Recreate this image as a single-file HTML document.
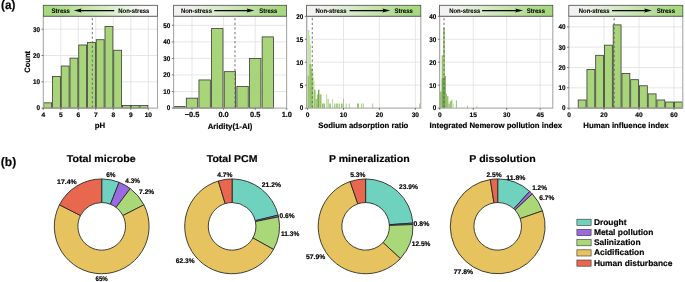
<!DOCTYPE html>
<html><head><meta charset="utf-8"><style>
html,body{margin:0;padding:0;background:#fff;width:685px;height:282px;overflow:hidden;}
svg{display:block;will-change:transform;}
text{font-family:"Liberation Sans",sans-serif;font-weight:bold;fill:#050505;text-rendering:geometricPrecision;stroke:#050505;stroke-width:0.18px;}
</style></head><body>
<svg width="685" height="282" viewBox="0 0 685 282" font-family="Liberation Sans, sans-serif" font-weight="bold"><defs><linearGradient id="hg1" x1="0" x2="1" y1="0" y2="0"><stop offset="0" stop-color="#A6D87F"/><stop offset="0.06" stop-color="#A6D87F"/><stop offset="0.9" stop-color="#fafafa"/><stop offset="1" stop-color="#fafafa"/></linearGradient><linearGradient id="hg2" x1="0" x2="1" y1="0" y2="0"><stop offset="0" stop-color="#f2f2f2"/><stop offset="0.12" stop-color="#f1f3ef"/><stop offset="0.94" stop-color="#A6D87F"/><stop offset="1" stop-color="#A6D87F"/></linearGradient><linearGradient id="hg3" x1="0" x2="1" y1="0" y2="0"><stop offset="0" stop-color="#f2f2f2"/><stop offset="0.12" stop-color="#f1f3ef"/><stop offset="0.94" stop-color="#A6D87F"/><stop offset="1" stop-color="#A6D87F"/></linearGradient><linearGradient id="hg4" x1="0" x2="1" y1="0" y2="0"><stop offset="0" stop-color="#f2f2f2"/><stop offset="0.12" stop-color="#f1f3ef"/><stop offset="0.94" stop-color="#A6D87F"/><stop offset="1" stop-color="#A6D87F"/></linearGradient><linearGradient id="hg5" x1="0" x2="1" y1="0" y2="0"><stop offset="0" stop-color="#f2f2f2"/><stop offset="0.12" stop-color="#f1f3ef"/><stop offset="0.94" stop-color="#A6D87F"/><stop offset="1" stop-color="#A6D87F"/></linearGradient></defs><rect width="685" height="282" fill="#fff"/><g stroke="#e0e0e0" stroke-width="0.8"><line x1="60.80" y1="16.2" x2="60.80" y2="108.1"/><line x1="78.30" y1="16.2" x2="78.30" y2="108.1"/><line x1="95.80" y1="16.2" x2="95.80" y2="108.1"/><line x1="113.30" y1="16.2" x2="113.30" y2="108.1"/><line x1="130.80" y1="16.2" x2="130.80" y2="108.1"/><line x1="148.30" y1="16.2" x2="148.30" y2="108.1"/><line x1="43.3" y1="81.80" x2="157.5" y2="81.80"/><line x1="43.3" y1="55.50" x2="157.5" y2="55.50"/><line x1="43.3" y1="29.20" x2="157.5" y2="29.20"/></g>
<g fill="#A9D57A" stroke="#3a3a3a" stroke-width="0.8"><rect x="43.74" y="102.84" width="7.88" height="5.26"/><rect x="52.49" y="76.54" width="7.88" height="31.56"/><rect x="61.24" y="66.02" width="7.88" height="42.08"/><rect x="69.99" y="58.13" width="7.88" height="49.97"/><rect x="78.74" y="44.98" width="7.88" height="63.12"/><rect x="87.49" y="42.35" width="7.88" height="65.75"/><rect x="96.24" y="39.72" width="7.88" height="68.38"/><rect x="104.99" y="26.57" width="7.88" height="81.53"/><rect x="113.74" y="50.24" width="7.88" height="57.86"/><rect x="122.49" y="105.47" width="7.88" height="2.63"/><rect x="131.24" y="105.47" width="7.88" height="2.63"/><rect x="139.99" y="105.47" width="7.88" height="2.63"/></g>
<line x1="92.30" y1="16.2" x2="92.30" y2="108.1" stroke="#5a5a5a" stroke-width="0.85" stroke-dasharray="2.3,2.3" stroke-dashoffset="2.7"/>
<rect x="43.3" y="16.2" width="114.2" height="91.89999999999999" fill="none" stroke="#a8a8a8" stroke-width="1.1"/>
<rect x="43.3" y="5.3" width="114.2" height="10.899999999999999" fill="url(#hg1)" stroke="#4a4a4a" stroke-width="0.8"/>
<text x="51.6" y="13.0" font-size="6.6" textLength="18.3" lengthAdjust="spacingAndGlyphs" style="stroke-width:0.08px">Stress</text>
<text x="118.2" y="13.0" font-size="6.6" textLength="31.2" lengthAdjust="spacingAndGlyphs" style="stroke-width:0.08px">Non-stress</text>
<line x1="79.80" y1="10.6" x2="114.20" y2="10.6" stroke="#000" stroke-width="1.1"/>
<path d="M73.80,10.6 L81.60,8.6 L80.40,10.6 L81.60,12.6 Z" fill="#000"/>
<g stroke="#444" stroke-width="0.7"><line x1="43.30" y1="108.1" x2="43.30" y2="109.89999999999999"/><line x1="60.80" y1="108.1" x2="60.80" y2="109.89999999999999"/><line x1="78.30" y1="108.1" x2="78.30" y2="109.89999999999999"/><line x1="95.80" y1="108.1" x2="95.80" y2="109.89999999999999"/><line x1="113.30" y1="108.1" x2="113.30" y2="109.89999999999999"/><line x1="130.80" y1="108.1" x2="130.80" y2="109.89999999999999"/><line x1="148.30" y1="108.1" x2="148.30" y2="109.89999999999999"/><line x1="41.5" y1="108.10" x2="43.3" y2="108.10"/><line x1="41.5" y1="81.80" x2="43.3" y2="81.80"/><line x1="41.5" y1="55.50" x2="43.3" y2="55.50"/><line x1="41.5" y1="29.20" x2="43.3" y2="29.20"/></g>
<text x="43.30" y="116.8" font-size="6.6" text-anchor="middle">4</text>
<text x="60.80" y="116.8" font-size="6.6" text-anchor="middle">5</text>
<text x="78.30" y="116.8" font-size="6.6" text-anchor="middle">6</text>
<text x="95.80" y="116.8" font-size="6.6" text-anchor="middle">7</text>
<text x="113.30" y="116.8" font-size="6.6" text-anchor="middle">8</text>
<text x="130.80" y="116.8" font-size="6.6" text-anchor="middle">9</text>
<text x="148.30" y="116.8" font-size="6.6" text-anchor="middle">10</text>
<text x="40.10" y="110.45" font-size="6.9" text-anchor="end" textLength="3.53" lengthAdjust="spacingAndGlyphs">0</text>
<text x="40.10" y="84.15" font-size="6.9" text-anchor="end" textLength="7.06" lengthAdjust="spacingAndGlyphs">10</text>
<text x="40.10" y="57.85" font-size="6.9" text-anchor="end" textLength="7.06" lengthAdjust="spacingAndGlyphs">20</text>
<text x="40.10" y="31.55" font-size="6.9" text-anchor="end" textLength="7.06" lengthAdjust="spacingAndGlyphs">30</text>
<text x="100" y="128.3" font-size="7.8" text-anchor="middle">pH</text>
<g stroke="#e0e0e0" stroke-width="0.8"><line x1="192.00" y1="16.2" x2="192.00" y2="108.1"/><line x1="223.60" y1="16.2" x2="223.60" y2="108.1"/><line x1="255.20" y1="16.2" x2="255.20" y2="108.1"/><line x1="173.6" y1="91.54" x2="286.6" y2="91.54"/><line x1="173.6" y1="74.98" x2="286.6" y2="74.98"/><line x1="173.6" y1="58.42" x2="286.6" y2="58.42"/><line x1="173.6" y1="41.86" x2="286.6" y2="41.86"/><line x1="173.6" y1="25.30" x2="286.6" y2="25.30"/></g>
<g fill="#A9D57A" stroke="#3a3a3a" stroke-width="0.8"><rect x="173.67" y="106.44" width="11.38" height="1.66"/><rect x="186.31" y="98.16" width="11.38" height="9.94"/><rect x="198.95" y="79.95" width="11.38" height="28.15"/><rect x="211.59" y="28.61" width="11.38" height="79.49"/><rect x="224.23" y="71.67" width="11.38" height="36.43"/><rect x="236.87" y="86.57" width="11.38" height="21.53"/><rect x="249.51" y="58.42" width="11.38" height="49.68"/><rect x="262.15" y="36.89" width="11.38" height="71.21"/></g>
<line x1="234.97" y1="16.2" x2="234.97" y2="108.1" stroke="#5a5a5a" stroke-width="0.85" stroke-dasharray="2.3,2.3" stroke-dashoffset="2.7"/>
<rect x="173.6" y="16.2" width="113.00000000000003" height="91.89999999999999" fill="none" stroke="#a8a8a8" stroke-width="1.1"/>
<rect x="173.6" y="5.3" width="113.00000000000003" height="10.899999999999999" fill="url(#hg2)" stroke="#4a4a4a" stroke-width="0.8"/>
<text x="180.9" y="13.0" font-size="6.6" textLength="31.1" lengthAdjust="spacingAndGlyphs" style="stroke-width:0.08px">Non-stress</text>
<text x="259.3" y="13.0" font-size="6.6" textLength="17.9" lengthAdjust="spacingAndGlyphs" style="stroke-width:0.08px">Stress</text>
<line x1="214.30" y1="10.6" x2="248.50" y2="10.6" stroke="#000" stroke-width="1.1"/>
<path d="M254.50,10.6 L246.70,8.6 L247.90,10.6 L246.70,12.6 Z" fill="#000"/>
<g stroke="#444" stroke-width="0.7"><line x1="192.00" y1="108.1" x2="192.00" y2="109.89999999999999"/><line x1="223.60" y1="108.1" x2="223.60" y2="109.89999999999999"/><line x1="255.20" y1="108.1" x2="255.20" y2="109.89999999999999"/><line x1="286.80" y1="108.1" x2="286.80" y2="109.89999999999999"/><line x1="171.79999999999998" y1="108.10" x2="173.6" y2="108.10"/><line x1="171.79999999999998" y1="91.54" x2="173.6" y2="91.54"/><line x1="171.79999999999998" y1="74.98" x2="173.6" y2="74.98"/><line x1="171.79999999999998" y1="58.42" x2="173.6" y2="58.42"/><line x1="171.79999999999998" y1="41.86" x2="173.6" y2="41.86"/><line x1="171.79999999999998" y1="25.30" x2="173.6" y2="25.30"/></g>
<text x="192.00" y="117.4" font-size="7.4" text-anchor="middle">−0.5</text>
<text x="223.60" y="117.4" font-size="7.4" text-anchor="middle">0.0</text>
<text x="255.20" y="117.4" font-size="7.4" text-anchor="middle">0.5</text>
<text x="286.80" y="117.4" font-size="7.4" text-anchor="middle">1.0</text>
<text x="170.40" y="110.45" font-size="6.9" text-anchor="end" textLength="3.53" lengthAdjust="spacingAndGlyphs">0</text>
<text x="170.40" y="93.89" font-size="6.9" text-anchor="end" textLength="7.06" lengthAdjust="spacingAndGlyphs">10</text>
<text x="170.40" y="77.33" font-size="6.9" text-anchor="end" textLength="7.06" lengthAdjust="spacingAndGlyphs">20</text>
<text x="170.40" y="60.77" font-size="6.9" text-anchor="end" textLength="7.06" lengthAdjust="spacingAndGlyphs">30</text>
<text x="170.40" y="44.21" font-size="6.9" text-anchor="end" textLength="7.06" lengthAdjust="spacingAndGlyphs">40</text>
<text x="170.40" y="27.65" font-size="6.9" text-anchor="end" textLength="7.06" lengthAdjust="spacingAndGlyphs">50</text>
<text x="230" y="129.0" font-size="7.8" text-anchor="middle">Aridity(1-AI)</text>
<g stroke="#e0e0e0" stroke-width="0.8"><line x1="307.60" y1="16.2" x2="307.60" y2="108.1"/><line x1="343.50" y1="16.2" x2="343.50" y2="108.1"/><line x1="379.40" y1="16.2" x2="379.40" y2="108.1"/><line x1="415.30" y1="16.2" x2="415.30" y2="108.1"/><line x1="306.6" y1="85.15" x2="420.8" y2="85.15"/><line x1="306.6" y1="62.20" x2="420.8" y2="62.20"/><line x1="306.6" y1="39.25" x2="420.8" y2="39.25"/><line x1="306.6" y1="16.30" x2="420.8" y2="16.30"/></g>
<g><rect x="307.70" y="30.07" width="1.70" height="78.03" fill="#c6e1aa"/><rect x="308.00" y="34.66" width="1.80" height="73.44" fill="#c6e1aa"/><rect x="309.30" y="43.84" width="1.70" height="64.26" fill="#c6e1aa"/><rect x="310.90" y="64.50" width="1.40" height="43.60" fill="#c6e1aa"/><rect x="312.30" y="71.38" width="1.20" height="36.72" fill="#c6e1aa"/><rect x="307.70" y="75.97" width="1.60" height="32.13" fill="#97c46b"/><rect x="309.30" y="64.04" width="1.70" height="44.06" fill="#97c46b"/><rect x="310.90" y="69.08" width="1.40" height="39.02" fill="#97c46b"/><rect x="312.20" y="78.26" width="1.30" height="29.84" fill="#97c46b"/><rect x="313.50" y="81.02" width="1.10" height="27.08" fill="#c6e1aa"/><rect x="314.00" y="89.74" width="1.60" height="18.36" fill="#97c46b"/><rect x="315.60" y="98.92" width="1.30" height="9.18" fill="#97c46b"/><rect x="316.90" y="94.33" width="1.30" height="13.77" fill="#97c46b"/><rect x="318.00" y="89.74" width="1.40" height="18.36" fill="#76a64f"/><rect x="319.40" y="94.33" width="1.60" height="13.77" fill="#97c46b"/><rect x="321.00" y="94.33" width="1.00" height="13.77" fill="#c6e1aa"/><rect x="322.00" y="103.51" width="1.60" height="4.59" fill="#97c46b"/><rect x="323.60" y="103.51" width="1.40" height="4.59" fill="#97c46b"/><rect x="326.00" y="94.33" width="1.20" height="13.77" fill="#c6e1aa"/><rect x="327.60" y="98.92" width="1.00" height="9.18" fill="#97c46b"/><rect x="329.20" y="103.51" width="1.60" height="4.59" fill="#97c46b"/><rect x="332.00" y="98.92" width="1.20" height="9.18" fill="#c6e1aa"/><rect x="334.20" y="103.51" width="1.00" height="4.59" fill="#97c46b"/><rect x="335.80" y="103.51" width="1.00" height="4.59" fill="#97c46b"/><rect x="337.20" y="103.51" width="1.00" height="4.59" fill="#97c46b"/><rect x="338.80" y="103.51" width="1.00" height="4.59" fill="#97c46b"/><rect x="341.00" y="103.51" width="1.60" height="4.59" fill="#97c46b"/><rect x="343.20" y="98.92" width="0.80" height="9.18" fill="#97c46b"/><rect x="345.80" y="103.51" width="0.80" height="4.59" fill="#97c46b"/><rect x="348.80" y="103.51" width="0.80" height="4.59" fill="#97c46b"/><rect x="357.00" y="103.51" width="2.00" height="4.59" fill="#97c46b"/><rect x="361.30" y="103.51" width="0.80" height="4.59" fill="#97c46b"/><rect x="362.90" y="103.51" width="0.80" height="4.59" fill="#97c46b"/><rect x="372.30" y="103.51" width="0.80" height="4.59" fill="#97c46b"/><rect x="419.30" y="103.51" width="0.80" height="4.59" fill="#97c46b"/></g>
<line x1="312.27" y1="16.2" x2="312.27" y2="108.1" stroke="#5a5a5a" stroke-width="0.85" stroke-dasharray="2.3,2.3" stroke-dashoffset="2.7"/>
<rect x="306.6" y="16.2" width="114.19999999999999" height="91.89999999999999" fill="none" stroke="#a8a8a8" stroke-width="1.1"/>
<rect x="306.6" y="5.3" width="114.19999999999999" height="10.899999999999999" fill="url(#hg3)" stroke="#4a4a4a" stroke-width="0.8"/>
<text x="315.5" y="13.0" font-size="6.6" textLength="31.0" lengthAdjust="spacingAndGlyphs" style="stroke-width:0.08px">Non-stress</text>
<text x="394.5" y="13.0" font-size="6.6" textLength="18.3" lengthAdjust="spacingAndGlyphs" style="stroke-width:0.08px">Stress</text>
<line x1="349.60" y1="10.6" x2="384.20" y2="10.6" stroke="#000" stroke-width="1.1"/>
<path d="M390.20,10.6 L382.40,8.6 L383.60,10.6 L382.40,12.6 Z" fill="#000"/>
<g stroke="#444" stroke-width="0.7"><line x1="307.60" y1="108.1" x2="307.60" y2="109.89999999999999"/><line x1="343.50" y1="108.1" x2="343.50" y2="109.89999999999999"/><line x1="379.40" y1="108.1" x2="379.40" y2="109.89999999999999"/><line x1="415.30" y1="108.1" x2="415.30" y2="109.89999999999999"/><line x1="304.8" y1="108.10" x2="306.6" y2="108.10"/><line x1="304.8" y1="85.15" x2="306.6" y2="85.15"/><line x1="304.8" y1="62.20" x2="306.6" y2="62.20"/><line x1="304.8" y1="39.25" x2="306.6" y2="39.25"/><line x1="304.8" y1="16.30" x2="306.6" y2="16.30"/></g>
<text x="307.60" y="116.8" font-size="6.6" text-anchor="middle">0</text>
<text x="343.50" y="116.8" font-size="6.6" text-anchor="middle">10</text>
<text x="379.40" y="116.8" font-size="6.6" text-anchor="middle">20</text>
<text x="415.30" y="116.8" font-size="6.6" text-anchor="middle">30</text>
<text x="303.40" y="110.45" font-size="6.9" text-anchor="end" textLength="3.53" lengthAdjust="spacingAndGlyphs">0</text>
<text x="303.40" y="87.50" font-size="6.9" text-anchor="end" textLength="3.53" lengthAdjust="spacingAndGlyphs">5</text>
<text x="303.40" y="64.55" font-size="6.9" text-anchor="end" textLength="7.06" lengthAdjust="spacingAndGlyphs">10</text>
<text x="303.40" y="41.60" font-size="6.9" text-anchor="end" textLength="7.06" lengthAdjust="spacingAndGlyphs">15</text>
<text x="303.40" y="18.65" font-size="6.9" text-anchor="end" textLength="7.06" lengthAdjust="spacingAndGlyphs">20</text>
<text x="363.3" y="128.3" font-size="7.8" text-anchor="middle">Sodium adsorption ratio</text>
<g stroke="#e0e0e0" stroke-width="0.8"><line x1="439.80" y1="16.2" x2="439.80" y2="108.1"/><line x1="473.25" y1="16.2" x2="473.25" y2="108.1"/><line x1="506.70" y1="16.2" x2="506.70" y2="108.1"/><line x1="540.15" y1="16.2" x2="540.15" y2="108.1"/><line x1="439.6" y1="85.15" x2="552.8" y2="85.15"/><line x1="439.6" y1="62.20" x2="552.8" y2="62.20"/><line x1="439.6" y1="39.25" x2="552.8" y2="39.25"/><line x1="439.6" y1="16.30" x2="552.8" y2="16.30"/></g>
<g><rect x="439.90" y="91.58" width="1.80" height="16.52" fill="#97c46b"/><rect x="441.70" y="55.31" width="1.40" height="52.78" fill="#97c46b"/><rect x="443.10" y="27.77" width="1.80" height="80.33" fill="#97c46b"/><rect x="444.00" y="75.97" width="1.80" height="32.13" fill="#76a64f"/><rect x="441.70" y="78.26" width="3.20" height="29.84" fill="#76a64f"/><rect x="445.80" y="93.64" width="1.20" height="14.46" fill="#97c46b"/><rect x="447.00" y="96.17" width="1.40" height="11.93" fill="#97c46b"/><rect x="448.40" y="103.51" width="1.40" height="4.59" fill="#97c46b"/><rect x="449.80" y="101.21" width="1.30" height="6.89" fill="#97c46b"/><rect x="451.10" y="100.07" width="1.30" height="8.03" fill="#97c46b"/><rect x="452.80" y="103.51" width="0.90" height="4.59" fill="#c6e1aa"/><rect x="455.90" y="100.30" width="1.00" height="7.80" fill="#97c46b"/><rect x="467.20" y="105.80" width="0.80" height="2.30" fill="#97c46b"/><rect x="476.50" y="105.80" width="0.80" height="2.30" fill="#97c46b"/></g>
<line x1="444.04" y1="16.2" x2="444.04" y2="108.1" stroke="#5a5a5a" stroke-width="0.85" stroke-dasharray="2.3,2.3" stroke-dashoffset="2.7"/>
<rect x="439.6" y="16.2" width="113.19999999999993" height="91.89999999999999" fill="none" stroke="#a8a8a8" stroke-width="1.1"/>
<rect x="439.6" y="5.3" width="113.19999999999993" height="10.899999999999999" fill="url(#hg4)" stroke="#4a4a4a" stroke-width="0.8"/>
<text x="449.2" y="13.0" font-size="6.6" textLength="31.1" lengthAdjust="spacingAndGlyphs" style="stroke-width:0.08px">Non-stress</text>
<text x="526.8" y="13.0" font-size="6.6" textLength="18.2" lengthAdjust="spacingAndGlyphs" style="stroke-width:0.08px">Stress</text>
<line x1="482.10" y1="10.6" x2="517.00" y2="10.6" stroke="#000" stroke-width="1.1"/>
<path d="M523.00,10.6 L515.20,8.6 L516.40,10.6 L515.20,12.6 Z" fill="#000"/>
<g stroke="#444" stroke-width="0.7"><line x1="439.80" y1="108.1" x2="439.80" y2="109.89999999999999"/><line x1="473.25" y1="108.1" x2="473.25" y2="109.89999999999999"/><line x1="506.70" y1="108.1" x2="506.70" y2="109.89999999999999"/><line x1="540.15" y1="108.1" x2="540.15" y2="109.89999999999999"/><line x1="437.8" y1="108.10" x2="439.6" y2="108.10"/><line x1="437.8" y1="85.15" x2="439.6" y2="85.15"/><line x1="437.8" y1="62.20" x2="439.6" y2="62.20"/><line x1="437.8" y1="39.25" x2="439.6" y2="39.25"/><line x1="437.8" y1="16.30" x2="439.6" y2="16.30"/></g>
<text x="439.80" y="116.8" font-size="6.6" text-anchor="middle">0</text>
<text x="473.25" y="116.8" font-size="6.6" text-anchor="middle">15</text>
<text x="506.70" y="116.8" font-size="6.6" text-anchor="middle">30</text>
<text x="540.15" y="116.8" font-size="6.6" text-anchor="middle">45</text>
<text x="436.40" y="110.45" font-size="6.9" text-anchor="end" textLength="3.53" lengthAdjust="spacingAndGlyphs">0</text>
<text x="436.40" y="87.50" font-size="6.9" text-anchor="end" textLength="7.06" lengthAdjust="spacingAndGlyphs">10</text>
<text x="436.40" y="64.55" font-size="6.9" text-anchor="end" textLength="7.06" lengthAdjust="spacingAndGlyphs">20</text>
<text x="436.40" y="41.60" font-size="6.9" text-anchor="end" textLength="7.06" lengthAdjust="spacingAndGlyphs">30</text>
<text x="436.40" y="18.65" font-size="6.9" text-anchor="end" textLength="7.06" lengthAdjust="spacingAndGlyphs">40</text>
<text x="495.9" y="128.3" font-size="7.8" text-anchor="middle">Integrated Nemerow pollution index</text>
<g stroke="#e0e0e0" stroke-width="0.8"><line x1="569.00" y1="16.2" x2="569.00" y2="108.1"/><line x1="604.00" y1="16.2" x2="604.00" y2="108.1"/><line x1="639.00" y1="16.2" x2="639.00" y2="108.1"/><line x1="674.00" y1="16.2" x2="674.00" y2="108.1"/><line x1="568.8" y1="87.80" x2="682.8" y2="87.80"/><line x1="568.8" y1="67.50" x2="682.8" y2="67.50"/><line x1="568.8" y1="47.20" x2="682.8" y2="47.20"/><line x1="568.8" y1="26.90" x2="682.8" y2="26.90"/></g>
<g fill="#A9D57A" stroke="#3a3a3a" stroke-width="0.8"><rect x="578.19" y="99.98" width="7.88" height="8.12"/><rect x="586.94" y="69.53" width="7.88" height="38.57"/><rect x="595.69" y="55.32" width="7.88" height="52.78"/><rect x="604.44" y="45.17" width="7.88" height="62.93"/><rect x="613.19" y="24.87" width="7.88" height="83.23"/><rect x="621.94" y="73.59" width="7.88" height="34.51"/><rect x="630.69" y="79.68" width="7.88" height="28.42"/><rect x="639.44" y="85.77" width="7.88" height="22.33"/><rect x="648.19" y="93.89" width="7.88" height="14.21"/><rect x="656.94" y="99.98" width="7.88" height="8.12"/><rect x="665.69" y="102.01" width="7.88" height="6.09"/><rect x="674.44" y="102.01" width="7.88" height="6.09"/></g>
<line x1="614.15" y1="16.2" x2="614.15" y2="108.1" stroke="#5a5a5a" stroke-width="0.85" stroke-dasharray="2.3,2.3" stroke-dashoffset="2.7"/>
<rect x="568.8" y="16.2" width="114.0" height="91.89999999999999" fill="none" stroke="#a8a8a8" stroke-width="1.1"/>
<rect x="568.8" y="5.3" width="114.0" height="10.899999999999999" fill="url(#hg5)" stroke="#4a4a4a" stroke-width="0.8"/>
<text x="578.8" y="13.0" font-size="6.6" textLength="30.8" lengthAdjust="spacingAndGlyphs" style="stroke-width:0.08px">Non-stress</text>
<text x="656.7" y="13.0" font-size="6.6" textLength="18.3" lengthAdjust="spacingAndGlyphs" style="stroke-width:0.08px">Stress</text>
<line x1="612.00" y1="10.6" x2="646.00" y2="10.6" stroke="#000" stroke-width="1.1"/>
<path d="M652.00,10.6 L644.20,8.6 L645.40,10.6 L644.20,12.6 Z" fill="#000"/>
<g stroke="#444" stroke-width="0.7"><line x1="569.00" y1="108.1" x2="569.00" y2="109.89999999999999"/><line x1="604.00" y1="108.1" x2="604.00" y2="109.89999999999999"/><line x1="639.00" y1="108.1" x2="639.00" y2="109.89999999999999"/><line x1="674.00" y1="108.1" x2="674.00" y2="109.89999999999999"/><line x1="567.0" y1="108.10" x2="568.8" y2="108.10"/><line x1="567.0" y1="87.80" x2="568.8" y2="87.80"/><line x1="567.0" y1="67.50" x2="568.8" y2="67.50"/><line x1="567.0" y1="47.20" x2="568.8" y2="47.20"/><line x1="567.0" y1="26.90" x2="568.8" y2="26.90"/></g>
<text x="569.00" y="116.8" font-size="6.6" text-anchor="middle">0</text>
<text x="604.00" y="116.8" font-size="6.6" text-anchor="middle">20</text>
<text x="639.00" y="116.8" font-size="6.6" text-anchor="middle">40</text>
<text x="674.00" y="116.8" font-size="6.6" text-anchor="middle">60</text>
<text x="565.60" y="110.45" font-size="6.9" text-anchor="end" textLength="3.53" lengthAdjust="spacingAndGlyphs">0</text>
<text x="565.60" y="90.15" font-size="6.9" text-anchor="end" textLength="7.06" lengthAdjust="spacingAndGlyphs">10</text>
<text x="565.60" y="69.85" font-size="6.9" text-anchor="end" textLength="7.06" lengthAdjust="spacingAndGlyphs">20</text>
<text x="565.60" y="49.55" font-size="6.9" text-anchor="end" textLength="7.06" lengthAdjust="spacingAndGlyphs">30</text>
<text x="565.60" y="29.25" font-size="6.9" text-anchor="end" textLength="7.06" lengthAdjust="spacingAndGlyphs">40</text>
<text x="626" y="128.3" font-size="7.8" text-anchor="middle">Human influence index</text>
<text x="0" y="0" font-size="7.8" text-anchor="middle" textLength="21.8" lengthAdjust="spacingAndGlyphs" transform="translate(30.3,61.9) rotate(-90)">Count</text>
<text x="1.1" y="9.3" font-size="12.3" textLength="14.3" lengthAdjust="spacingAndGlyphs">(a)</text>
<text x="0.8" y="165.9" font-size="12.3" textLength="15.4" lengthAdjust="spacingAndGlyphs">(b)</text>
<path d="M101.700,178.950 A47.4,47.4 0 0 1 119.149,182.279 L110.461,204.221 A23.8,23.8 0 0 0 101.700,202.550 Z" fill="#6ed2be" stroke="#222" stroke-width="0.85"/>
<path d="M119.149,182.279 A47.4,47.4 0 0 1 130.279,188.535 L116.050,207.362 A23.8,23.8 0 0 0 110.461,204.221 Z" fill="#9a6ae2" stroke="#222" stroke-width="0.85"/>
<path d="M130.279,188.535 A47.4,47.4 0 0 1 143.934,204.831 L122.906,215.545 A23.8,23.8 0 0 0 116.050,207.362 Z" fill="#aad778" stroke="#222" stroke-width="0.85"/>
<path d="M143.934,204.831 A47.4,47.4 0 1 1 59.466,204.831 L80.494,215.545 A23.8,23.8 0 1 0 122.906,215.545 Z" fill="#e6c35f" stroke="#222" stroke-width="0.85"/>
<path d="M59.466,204.831 A47.4,47.4 0 0 1 101.700,178.950 L101.700,202.550 A23.8,23.8 0 0 0 80.494,215.545 Z" fill="#e8674f" stroke="#222" stroke-width="0.85"/>
<path d="M232.100,178.950 A47.4,47.4 0 0 1 278.155,215.140 L255.225,220.721 A23.8,23.8 0 0 0 232.100,202.550 Z" fill="#6ed2be" stroke="#222" stroke-width="0.85"/>
<path d="M278.155,215.140 A47.4,47.4 0 0 1 278.545,216.884 L255.421,221.597 A23.8,23.8 0 0 0 255.225,220.721 Z" fill="#9a6ae2" stroke="#222" stroke-width="0.85"/>
<path d="M278.545,216.884 A47.4,47.4 0 0 1 273.493,249.446 L252.884,237.947 A23.8,23.8 0 0 0 255.421,221.597 Z" fill="#aad778" stroke="#222" stroke-width="0.85"/>
<path d="M273.493,249.446 A47.4,47.4 0 1 1 218.305,181.002 L225.173,203.580 A23.8,23.8 0 1 0 252.884,237.947 Z" fill="#e6c35f" stroke="#222" stroke-width="0.85"/>
<path d="M218.305,181.002 A47.4,47.4 0 0 1 232.100,178.950 L232.100,202.550 A23.8,23.8 0 0 0 225.173,203.580 Z" fill="#e8674f" stroke="#222" stroke-width="0.85"/>
<path d="M365.600,178.950 A47.4,47.4 0 0 1 412.887,223.077 L389.343,224.706 A23.8,23.8 0 0 0 365.600,202.550 Z" fill="#6ed2be" stroke="#222" stroke-width="0.85"/>
<path d="M412.887,223.077 A47.4,47.4 0 0 1 412.966,224.563 L389.383,225.453 A23.8,23.8 0 0 0 389.343,224.706 Z" fill="#9a6ae2" stroke="#222" stroke-width="0.85"/>
<path d="M412.966,224.563 A47.4,47.4 0 0 1 400.356,258.580 L383.051,242.533 A23.8,23.8 0 0 0 389.383,225.453 Z" fill="#aad778" stroke="#222" stroke-width="0.85"/>
<path d="M400.356,258.580 A47.4,47.4 0 1 1 350.106,181.554 L357.820,203.857 A23.8,23.8 0 1 0 383.051,242.533 Z" fill="#e6c35f" stroke="#222" stroke-width="0.85"/>
<path d="M350.106,181.554 A47.4,47.4 0 0 1 365.600,178.950 L365.600,202.550 A23.8,23.8 0 0 0 357.820,203.857 Z" fill="#e8674f" stroke="#222" stroke-width="0.85"/>
<path d="M497.700,178.950 A47.4,47.4 0 0 1 529.711,191.392 L513.773,208.797 A23.8,23.8 0 0 0 497.700,202.550 Z" fill="#6ed2be" stroke="#222" stroke-width="0.85"/>
<path d="M529.711,191.392 A47.4,47.4 0 0 1 532.253,193.902 L515.049,210.058 A23.8,23.8 0 0 0 513.773,208.797 Z" fill="#9a6ae2" stroke="#222" stroke-width="0.85"/>
<path d="M532.253,193.902 A47.4,47.4 0 0 1 542.496,210.856 L520.193,218.570 A23.8,23.8 0 0 0 515.049,210.058 Z" fill="#aad778" stroke="#222" stroke-width="0.85"/>
<path d="M542.496,210.856 A47.4,47.4 0 1 1 490.285,179.534 L493.977,202.843 A23.8,23.8 0 1 0 520.193,218.570 Z" fill="#e6c35f" stroke="#222" stroke-width="0.85"/>
<path d="M490.285,179.534 A47.4,47.4 0 0 1 497.700,178.950 L497.700,202.550 A23.8,23.8 0 0 0 493.977,202.843 Z" fill="#e8674f" stroke="#222" stroke-width="0.85"/>
<text x="101.19999999999999" y="162.4" font-size="9.9" text-anchor="middle" textLength="68.7" lengthAdjust="spacingAndGlyphs">Total microbe</text>
<text x="232.1" y="162.4" font-size="9.9" text-anchor="middle" textLength="50.699999999999996" lengthAdjust="spacingAndGlyphs">Total PCM</text>
<text x="369.3" y="162.4" font-size="9.9" text-anchor="middle" textLength="80.8" lengthAdjust="spacingAndGlyphs">P mineralization</text>
<text x="502.5" y="162.4" font-size="9.9" text-anchor="middle" textLength="66.3" lengthAdjust="spacingAndGlyphs">P dissolution</text>
<text x="106.2" y="177.2" font-size="6.7" textLength="9.3" lengthAdjust="spacingAndGlyphs">6%</text>
<text x="125.3" y="182.8" font-size="6.7" textLength="14.7" lengthAdjust="spacingAndGlyphs">4.3%</text>
<text x="139.1" y="193.8" font-size="6.7" textLength="15.2" lengthAdjust="spacingAndGlyphs">7.2%</text>
<text x="57.1" y="183.6" font-size="6.7" textLength="19.7" lengthAdjust="spacingAndGlyphs">17.4%</text>
<text x="95.5" y="280.9" font-size="6.7" textLength="12.3" lengthAdjust="spacingAndGlyphs">65%</text>
<text x="217.2" y="176.6" font-size="6.7" textLength="15.3" lengthAdjust="spacingAndGlyphs">4.7%</text>
<text x="261.8" y="186.8" font-size="6.7" textLength="19.3" lengthAdjust="spacingAndGlyphs">21.2%</text>
<text x="279.5" y="218.0" font-size="6.7" textLength="15.0" lengthAdjust="spacingAndGlyphs">0.6%</text>
<text x="281.0" y="236.1" font-size="6.7" textLength="18.2" lengthAdjust="spacingAndGlyphs">11.3%</text>
<text x="175.8" y="263.3" font-size="6.7" textLength="18.8" lengthAdjust="spacingAndGlyphs">62.3%</text>
<text x="350.2" y="177.1" font-size="6.7" textLength="15.2" lengthAdjust="spacingAndGlyphs">5.3%</text>
<text x="399.0" y="189.4" font-size="6.7" textLength="18.9" lengthAdjust="spacingAndGlyphs">23.9%</text>
<text x="413.6" y="226.1" font-size="6.7" textLength="15.7" lengthAdjust="spacingAndGlyphs">0.8%</text>
<text x="411.8" y="245.5" font-size="6.7" textLength="18.6" lengthAdjust="spacingAndGlyphs">12.5%</text>
<text x="306.1" y="259.1" font-size="6.7" textLength="19.2" lengthAdjust="spacingAndGlyphs">57.9%</text>
<text x="486.4" y="176.5" font-size="6.7" textLength="15.2" lengthAdjust="spacingAndGlyphs">2.5%</text>
<text x="506.2" y="179.9" font-size="6.7" textLength="19.2" lengthAdjust="spacingAndGlyphs">11.8%</text>
<text x="532.2" y="190.3" font-size="6.7" textLength="14.8" lengthAdjust="spacingAndGlyphs">1.2%</text>
<text x="539.3" y="199.9" font-size="6.7" textLength="15.0" lengthAdjust="spacingAndGlyphs">6.7%</text>
<text x="453.8" y="273.6" font-size="6.7" textLength="19.4" lengthAdjust="spacingAndGlyphs">77.8%</text>
<rect x="576.9" y="219.20" width="14.2" height="6.2" fill="#6ed2be" stroke="#333" stroke-width="0.6"/>
<text x="593.9" y="224.75" font-size="8.2" textLength="32.6" lengthAdjust="spacingAndGlyphs">Drought</text>
<rect x="576.9" y="229.40" width="14.2" height="6.2" fill="#9a6ae2" stroke="#333" stroke-width="0.6"/>
<text x="593.9" y="234.95" font-size="8.2" textLength="59.5" lengthAdjust="spacingAndGlyphs">Metal pollution</text>
<rect x="576.9" y="239.60" width="14.2" height="6.2" fill="#aad778" stroke="#333" stroke-width="0.6"/>
<text x="593.9" y="245.15" font-size="8.2" textLength="46.7" lengthAdjust="spacingAndGlyphs">Salinization</text>
<rect x="576.9" y="249.80" width="14.2" height="6.2" fill="#e6c35f" stroke="#333" stroke-width="0.6"/>
<text x="593.9" y="255.35" font-size="8.2" textLength="50.5" lengthAdjust="spacingAndGlyphs">Acidification</text>
<rect x="576.9" y="260.00" width="14.2" height="6.2" fill="#e8674f" stroke="#333" stroke-width="0.6"/>
<text x="593.9" y="265.55" font-size="8.2" textLength="78.6" lengthAdjust="spacingAndGlyphs">Human disturbance</text></svg>
</body></html>
